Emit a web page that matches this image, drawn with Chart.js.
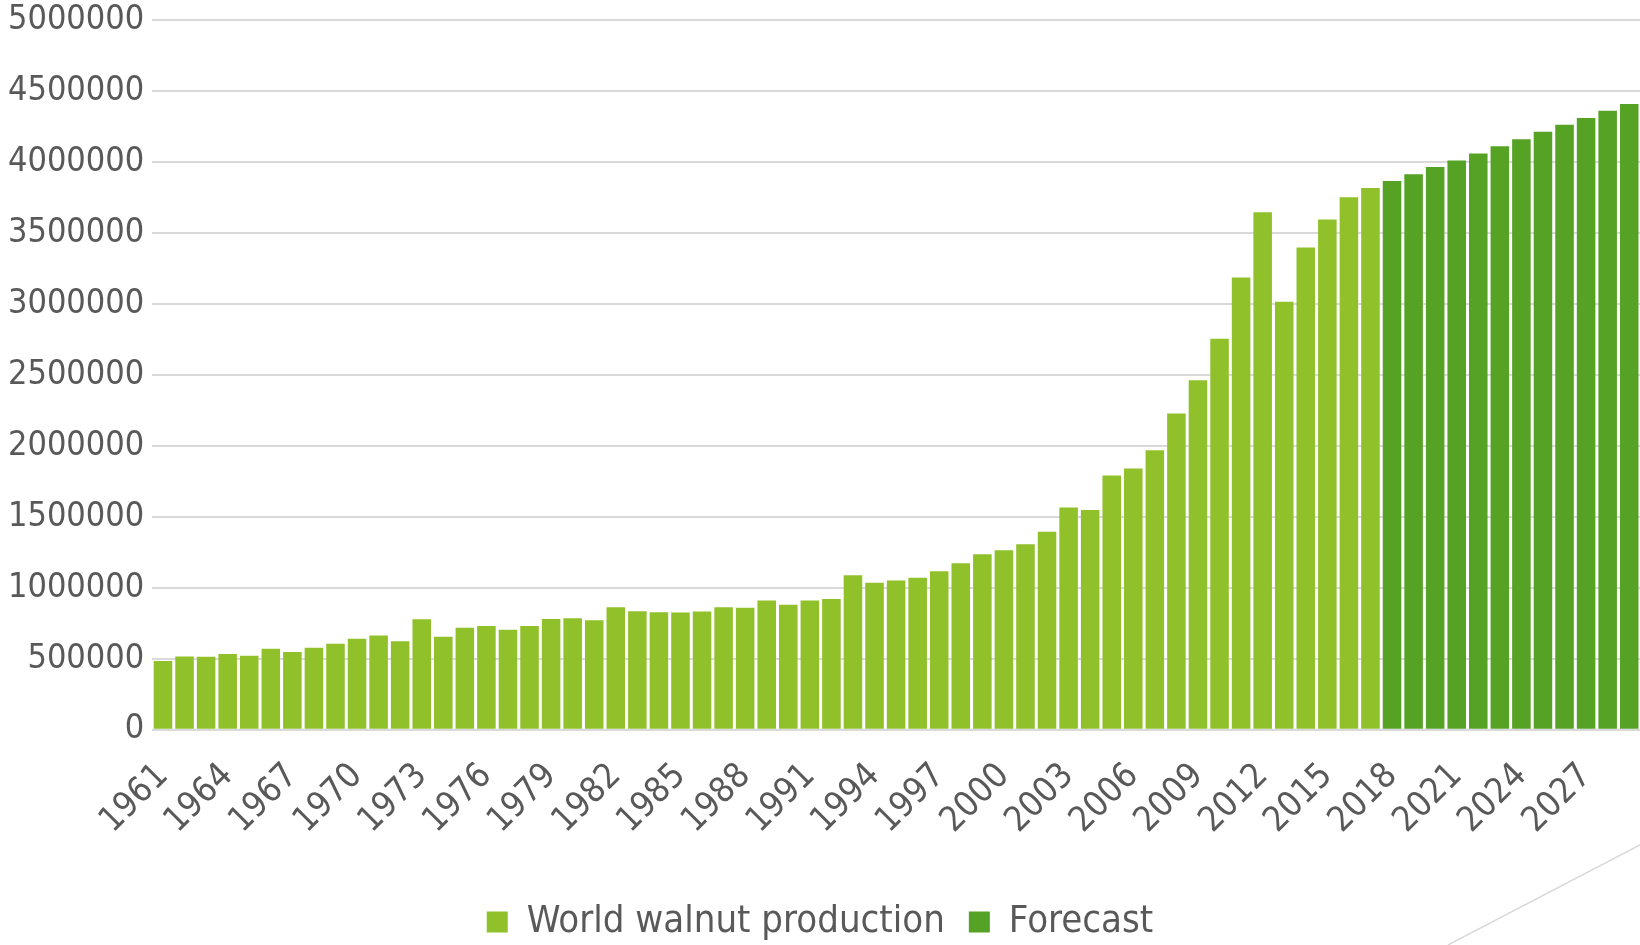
<!DOCTYPE html>
<html>
<head>
<meta charset="utf-8">
<title>World walnut production</title>
<script src="https://cdn.jsdelivr.net/npm/chart.js@4.4.0/dist/chart.umd.min.js"></script>
<style>
    html, body { margin: 0; padding: 0; background: #ffffff; }
    .chart-wrap { width: 1640px; height: 945px; position: relative; }
</style>
</head>
<body>
<div class="chart-wrap"><canvas id="barChart"></canvas></div>
<script>
        // Data
        const years = [
            '1961', '1962', '1963', '1964', '1965', '1966', '1967', '1968', '1969', '1970',
            '1971', '1972', '1973', '1974', '1975', '1976', '1977', '1978', '1979', '1980',
            '1981', '1982', '1983', '1984', '1985', '1986', '1987', '1988', '1989', '1990',
            '1991', '1992', '1993', '1994', '1995', '1996', '1997', '1998', '1999', '2000',
            '2001', '2002', '2003', '2004', '2005', '2006', '2007', '2008', '2009', '2010',
            '2011', '2012', '2013', '2014', '2015', '2016', '2017', '2018', '2019', '2020',
            '2021', '2022', '2023', '2024', '2025', '2026', '2027', '2028', '2029'
        ];

        // 1961 - 2017
        const production = [
            484000, 516000, 514000, 533000, 521000, 570000, 547000, 577000, 606000, 641000,
            664000, 622000, 778000, 655000, 718000, 730000, 704000, 730000, 780000, 785000,
            771000, 863000, 835000, 828000, 825000, 833000, 863000, 858000, 910000, 880000,
            910000, 920000, 1087000, 1035000, 1050000, 1071000, 1116000, 1172000, 1236000, 1264000,
            1307000, 1394000, 1566000, 1547000, 1791000, 1840000, 1969000, 2228000, 2462000, 2754000,
            3185000, 3646000, 3014000, 3397000, 3594000, 3751000, 3817000
        ];

        // 2018 - 2029
        const forecast = [
            3866000, 3913000, 3965000, 4010000, 4060000, 4110000,
            4160000, 4212000, 4262000, 4310000, 4360000, 4408000
        ];

        const yTicks = [0, 500000, 1000000, 1500000, 2000000, 2500000,
                        3000000, 3500000, 4000000, 4500000, 5000000];

        const fontFamily = '"DejaVu Sans Condensed", "DejaVu Sans", sans-serif';
        const textColor = '#595959';

        // push the legend a little lower, and draw the thin corner line
        const extras = {
            id: 'extras',
            afterLayout(chart) {
                const lg = chart.legend;
                if (lg) {
                    lg.top += 6;
                    lg.bottom += 6;
                }
            },
            afterDraw(chart) {
                const ctx = chart.ctx;
                const w = chart.width, h = chart.height;
                ctx.save();
                ctx.strokeStyle = '#d9d9d9';
                ctx.lineWidth = 1.5;
                ctx.beginPath();
                ctx.moveTo(w - 192, h);
                ctx.lineTo(w, h - 100);
                ctx.stroke();
                ctx.restore();
            }
        };

        const ctx = document.getElementById('barChart').getContext('2d');
        new Chart(ctx, {
            type: 'bar',
            data: {
                labels: years,
                datasets: [{
                    label: 'World walnut production',
                    data: production.concat(forecast.map(() => null)),
                    backgroundColor: '#90c12a',
                    borderWidth: 0
                }, {
                    label: 'Forecast',
                    data: production.map(() => null).concat(forecast),
                    backgroundColor: '#55a224',
                    borderWidth: 0
                }]
            },
            options: {
                responsive: true,
                maintainAspectRatio: false,
                animation: false,
                layout: { padding: { top: 0, right: 0, left: 0, bottom: 0 } },
                datasets: {
                    bar: { barPercentage: 0.86, categoryPercentage: 1.0 }
                },
                scales: {
                    x: {
                        stacked: true,
                        grid: { display: false },
                        border: { display: false },
                        ticks: {
                            autoSkip: false,
                            minRotation: 45,
                            maxRotation: 45,
                            padding: 18,
                            color: textColor,
                            font: { family: fontFamily, size: 35 },
                            callback: function (value, index) {
                                return index % 3 === 0 ? years[index] : '';
                            }
                        },
                        afterFit(scale) {
                            scale.height += 13;
                            scale.paddingLeft = 0;
                            scale.paddingRight = 0;
                        }
                    },
                    y: {
                        stacked: true,
                        min: 0,
                        max: 5000000,
                        afterBuildTicks(scale) {
                            scale.ticks = yTicks.map(v => ({ value: v }));
                        },
                        afterFit(scale) {
                            scale.paddingTop = 20;
                            scale.paddingBottom = 0;
                        },
                        grid: { color: '#d9d9d9', lineWidth: 2, drawTicks: false },
                        border: { display: false },
                        ticks: {
                            padding: 8,
                            color: textColor,
                            font: { family: fontFamily, size: 34 },
                            callback: value => String(value)
                        }
                    }
                },
                plugins: {
                    legend: {
                        position: 'bottom',
                        labels: {
                            boxWidth: 21,
                            boxHeight: 21,
                            padding: 24,
                            color: textColor,
                            font: { family: fontFamily, size: 38 }
                        }
                    },
                    tooltip: { enabled: false }
                }
            },
            plugins: [extras]
        });
</script>
</body>
</html>
